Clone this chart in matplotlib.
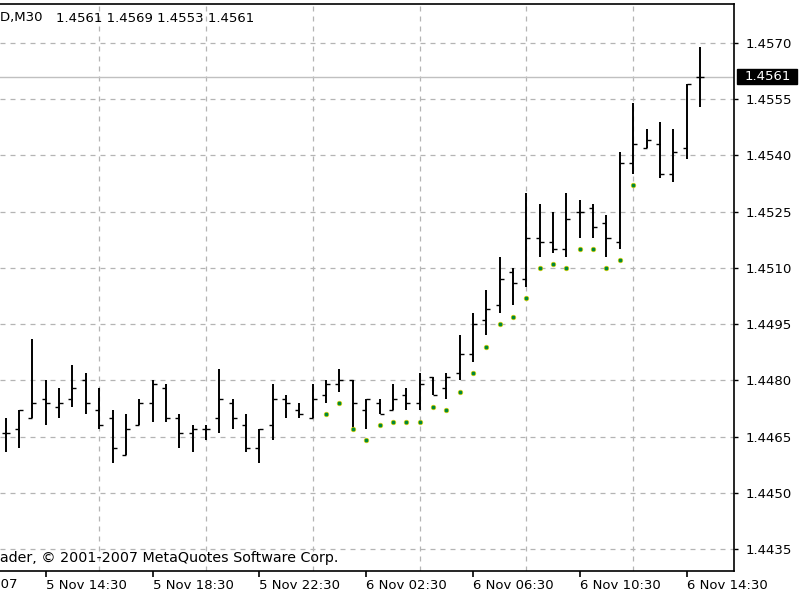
import numpy as np
import matplotlib
matplotlib.use("Agg")
import matplotlib.pyplot as plt
from matplotlib.patches import Rectangle
from matplotlib.transforms import blended_transform_factory, IdentityTransform

# ---------------- data ----------------
opens = [1.4466, 1.4467, 1.4470, 1.4475, 1.4473, 1.4475, 1.4480, 1.4472, 1.4470, 1.4460,
         1.4468, 1.4474, 1.4478, 1.4470, 1.4466, 1.4467, 1.4470, 1.4474, 1.4468, 1.4462,
         1.4468, 1.4475, 1.4472, 1.4470, 1.4476, 1.4479, 1.4480, 1.4472, 1.4474, 1.4472,
         1.4476, 1.4474, 1.4481, 1.4478, 1.4482, 1.4487, 1.4496, 1.4500, 1.4509, 1.4507,
         1.4518, 1.4517, 1.4515, 1.4525, 1.4526, 1.4522, 1.4517, 1.4538, 1.4542, 1.4543,
         1.4535, 1.4542, 1.4561]
highs = [1.4470, 1.4472, 1.4491, 1.4480, 1.4478, 1.4484, 1.4482, 1.4478, 1.4472, 1.4471,
         1.4475, 1.4480, 1.4479, 1.4471, 1.4468, 1.4468, 1.4483, 1.4475, 1.4471, 1.4467,
         1.4479, 1.4476, 1.4474, 1.4479, 1.4480, 1.4483, 1.4480, 1.4475, 1.4475, 1.4479,
         1.4478, 1.4482, 1.4481, 1.4482, 1.4492, 1.4498, 1.4504, 1.4513, 1.4510, 1.4530,
         1.4527, 1.4525, 1.4530, 1.4528, 1.4527, 1.4524, 1.4541, 1.4554, 1.4547, 1.4549,
         1.4547, 1.4559, 1.4569]
lows = [1.4461, 1.4462, 1.4470, 1.4468, 1.4470, 1.4473, 1.4471, 1.4467, 1.4458, 1.4460,
        1.4468, 1.4469, 1.4469, 1.4462, 1.4461, 1.4464, 1.4466, 1.4467, 1.4461, 1.4458,
        1.4464, 1.4470, 1.4470, 1.4470, 1.4474, 1.4477, 1.4467, 1.4467, 1.4471, 1.4472,
        1.4472, 1.4472, 1.4476, 1.4475, 1.4480, 1.4485, 1.4492, 1.4498, 1.4500, 1.4505,
        1.4513, 1.4514, 1.4513, 1.4518, 1.4518, 1.4513, 1.4515, 1.4535, 1.4542, 1.4534,
        1.4533, 1.4539, 1.4553]
closes = [1.4466, 1.4472, 1.4474, 1.4474, 1.4474, 1.4478, 1.4474, 1.4468, 1.4462, 1.4467,
          1.4474, 1.4479, 1.4470, 1.4466, 1.4467, 1.4467, 1.4475, 1.4470, 1.4462, 1.4467,
          1.4475, 1.4474, 1.4471, 1.4475, 1.4479, 1.4480, 1.4474, 1.4475, 1.4471, 1.4475,
          1.4474, 1.4479, 1.4476, 1.4481, 1.4487, 1.4495, 1.4499, 1.4507, 1.4506, 1.4518,
          1.4517, 1.4515, 1.4523, 1.4525, 1.4521, 1.4518, 1.4538, 1.4543, 1.4544, 1.4535,
          1.4541, 1.4559, 1.4561]
nan = float("nan")
dots = [nan] * 24 + [1.4471, 1.4474, 1.4467, 1.4464, 1.4468, 1.4469, 1.4469, 1.4469,
                     1.4473, 1.4472, 1.4477, 1.4482, 1.4489, 1.4495, 1.4497, 1.4502,
                     1.4510, 1.4511, 1.4510, 1.4515, 1.4515, 1.4510, 1.4512, 1.4532] + [nan] * 5

x_tick_labels = ["5 Nov 14:30", "5 Nov 18:30", "5 Nov 22:30", "6 Nov 02:30",
                 "6 Nov 06:30", "6 Nov 10:30", "6 Nov 14:30"]
first_label = "5 Nov 2007"
y_ticks = [1.4435, 1.4450, 1.4465, 1.4480, 1.4495, 1.4510, 1.4525, 1.4540, 1.4555, 1.4570]
symbol = "EURUSD,M30"
header_values = "1.4561 1.4569 1.4553 1.4561"
copyright_prefix = "MetaTr"
copyright_rest = "ader, \u00a9 2001-2007 MetaQuotes Software Corp."

# ---------------- figure ----------------
plt.rcParams["font.family"] = ["DejaVu Sans"]
FS = 9.5
fig = plt.figure(figsize=(8, 6), dpi=100, facecolor="white")
ax = fig.add_axes([0.0, 29 / 600, 734 / 800, 567 / 600])
ax.set_facecolor("white")

n = len(opens)
x = np.arange(n)
ax.set_xlim(-0.427, 54.55)
ax.set_ylim(1.442912, 1.45804)

# grid
grid_kw = dict(color="#b4b4b4", linestyle=(0, (4, 4)), linewidth=0.9)
ax.set_xticks(np.arange(3, n, 8))
ax.set_xticks(np.arange(3, n, 4), minor=True)
ax.xaxis.grid(True, which="minor", **grid_kw)
ax.xaxis.grid(False, which="major")
ax.set_yticks(y_ticks)
ax.yaxis.grid(True, **grid_kw)
ax.set_axisbelow(True)

# current price line
ax.axhline(closes[-1], color="#c0c0c0", linewidth=1.0, zorder=1)

# OHLC bars
tick_w = 0.3
ax.vlines(x, lows, highs, color="black", linewidth=1.4, zorder=3)
ax.hlines(opens, x - tick_w, x, color="black", linewidth=1.0, zorder=3)
ax.hlines(closes, x, x + tick_w, color="black", linewidth=1.0, zorder=3)

# indicator dots
ax.plot(x, dots, linestyle="none", marker="o", markersize=3.3,
        markerfacecolor="#00883a", markeredgecolor="#d8d000", markeredgewidth=0.5, zorder=4)

# axes styling
ax.spines["left"].set_visible(False)
for s in ["top", "right", "bottom"]:
    ax.spines[s].set_color("black")
    ax.spines[s].set_linewidth(1.2)

ax.yaxis.tick_right()
ax.set_yticklabels([f"{v:.4f}" for v in y_ticks])
ax.tick_params(axis="y", which="major", direction="out", length=3, width=1, pad=5,
               labelsize=FS, colors="black")
ax.set_xticklabels(x_tick_labels, ha="left")
ax.tick_params(axis="x", which="major", direction="out", length=4, width=1.2, pad=2,
               labelsize=FS, colors="black")
ax.tick_params(axis="x", which="minor", length=0)

# first (cut off) date label
trans_xb = blended_transform_factory(ax.transData, ax.transAxes)
ax.text(-4.85, -0.012, first_label, transform=trans_xb, ha="left", va="top",
        fontsize=FS, clip_on=False)

# header
fig.text(43 / 800, 1 - 18 / 600, symbol, ha="right", va="center", fontsize=FS)
fig.text(56 / 800, 1 - 18 / 600, header_values, ha="left", va="center", fontsize=FS)

# copyright (left part runs off the canvas, as in the original window)
fig.canvas.draw()
renderer = fig.canvas.get_renderer()
probe = fig.text(0, 0, copyright_rest, fontsize=FS)
w_rest = probe.get_window_extent(renderer).width
probe.remove()
fs_c = FS * 343.0 / w_rest
probe = fig.text(0, 0, copyright_prefix, fontsize=fs_c)
w_pre = probe.get_window_extent(renderer).width
probe.remove()
fig.text(-w_pre / 800, 1 - 558 / 600, copyright_prefix + copyright_rest,
         ha="left", va="center", fontsize=fs_c)

# current price box
y_disp = ax.transData.transform((0, closes[-1]))[1]
fig.patches.append(Rectangle((737, y_disp - 7.5), 60, 15, transform=IdentityTransform(),
                             facecolor="black", edgecolor="black", zorder=5))
fig.text(745 / 800, y_disp / 600, f"{closes[-1]:.4f}", ha="left", va="center",
         fontsize=FS, color="white", zorder=6)

fig.savefig("out.png", dpi=100, facecolor="white")
